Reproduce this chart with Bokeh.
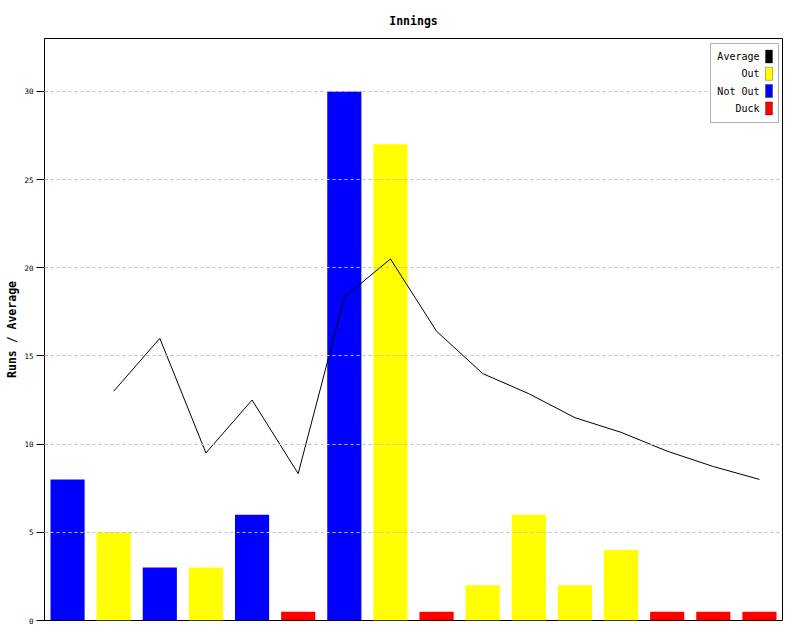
from bokeh.plotting import figure
from bokeh.models import ColumnDataSource, FixedTicker, Label, BoxAnnotation, Range1d
from bokeh.embed import file_html
from bokeh.resources import INLINE

# ---- data ----
innings = list(range(1, 17))
bar_values = [8, 5, 3, 3, 6, 0.5, 30, 27, 0.5, 2, 6, 2, 4, 0.5, 0.5, 0.5]
status = ["Not Out", "Out", "Not Out", "Out", "Not Out", "Duck", "Not Out", "Out",
          "Duck", "Out", "Out", "Out", "Out", "Duck", "Duck", "Duck"]
avg_innings = list(range(2, 17))
average = [13, 16, 9.5, 12.5, 8.33, 18.33, 20.5, 16.4, 14, 12.86, 11.5, 10.67, 9.6, 8.73, 8.0]
y_ticks = [0, 5, 10, 15, 20, 25, 30]
legend_labels = ["Average", "Out", "Not Out", "Duck"]

colour_map = {"Not Out": "#0000ff", "Out": "#ffff00", "Duck": "#ff0000", "Average": "#000000"}

src = ColumnDataSource(dict(x=innings, top=bar_values,
                            color=[colour_map[s] for s in status]))

MONO = "DejaVu Sans Mono"

p = figure(width=784, height=624, output_backend="svg", toolbar_location=None,
           x_range=Range1d(0.5, 16.5), y_range=Range1d(0, 33),
           min_border_left=44, min_border_right=2, min_border_top=38, min_border_bottom=4)

p.vbar(x="x", top="top", bottom=0, width=0.74, color="color", line_color=None, source=src)
p.line(avg_innings, average, line_color="black", line_width=1)

p.title.text = "Innings"
p.title.align = "center"
p.title.text_font = MONO
p.title.text_font_style = "bold"
p.title.text_font_size = "11.5px"
p.title.text_color = "black"
p.title.standoff = 22

p.xaxis.visible = False
p.xgrid.visible = False

ya = p.yaxis[0]
ya.ticker = FixedTicker(ticks=y_ticks)
ya.minor_tick_line_color = None
ya.major_tick_out = 8
ya.major_tick_in = 3
ya.major_label_standoff = 3
ya.major_label_text_font = MONO
ya.major_label_text_font_size = "7.5px"
ya.major_label_text_color = "black"
ya.axis_line_color = "black"
ya.major_tick_line_color = "black"
ya.axis_label = "Runs / Average"
ya.axis_label_text_font = MONO
ya.axis_label_text_font_style = "bold"
ya.axis_label_text_font_size = "11.5px"
ya.axis_label_text_color = "black"
ya.axis_label_standoff = 2

p.ygrid.grid_line_color = "#c0c0c0"
p.ygrid.grid_line_dash = "3 3"
p.ygrid.level = "annotation"

p.outline_line_color = "black"
p.outline_line_width = 1
p.background_fill_color = "white"
p.border_fill_color = "white"

# legend (manual, swatches on the right of labels)
p.add_layout(BoxAnnotation(left=666, right=734, bottom=498, top=577,
                           left_units="screen", right_units="screen",
                           bottom_units="screen", top_units="screen",
                           fill_color="white", fill_alpha=1, line_color="black",
                           line_width=1, level="annotation"))
for i, lab in enumerate(legend_labels):
    yc = 564 - 17.3 * i
    p.add_layout(BoxAnnotation(left=721, right=728, bottom=yc - 6.5, top=yc + 6.5,
                               left_units="screen", right_units="screen",
                               bottom_units="screen", top_units="screen",
                               fill_color=colour_map[lab], fill_alpha=1,
                               line_color="black", line_width=1, level="annotation"))
    p.add_layout(Label(x=715, y=yc, x_units="screen", y_units="screen", text=lab,
                       text_font=MONO, text_font_size="10px", text_color="black",
                       text_align="right", text_baseline="middle"))

open("out.html", "w").write(file_html(p, INLINE))
